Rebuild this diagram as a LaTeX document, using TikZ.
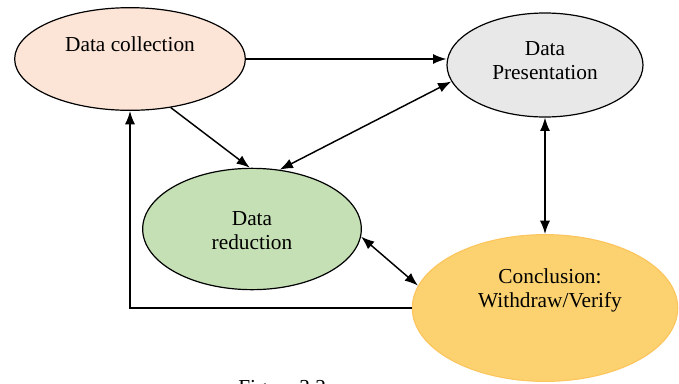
\documentclass[tikz,border=0pt]{standalone}
\usepackage{fontspec}
\setmainfont{Liberation Serif}
\usetikzlibrary{shapes.geometric,arrows.meta}
\definecolor{peach}{HTML}{FCE4D6}
\definecolor{lgray}{HTML}{E8E8E8}
\definecolor{lgreen}{HTML}{C5E0B4}
\definecolor{gold}{HTML}{FCD270}
\begin{document}
\begin{tikzpicture}[x=0.75pt,y=-0.75pt,
    oval/.style={ellipse,draw=black,line width=0.9pt,inner sep=0pt},
    txt/.style={align=center,font=\fontsize{16}{18}\selectfont},
    link/.style={line width=1.1pt,-{Latex[length=10pt,width=7.5pt]}},
    both/.style={line width=1.1pt,{Latex[length=10pt,width=7.5pt]}-{Latex[length=10pt,width=7.5pt]}}]
    \useasboundingbox(0,0)rectangle(679,383);
    \node[oval,fill=peach,minimum width=173pt,minimum height=77pt](coll)at(130,59){};%data collection
    \node[oval,fill=lgray,minimum width=147pt,minimum height=78pt](pres)at(545,65){};%presentation
    \node[oval,fill=lgreen,minimum width=164pt,minimum height=91pt](red)at(252,229){};%reduction
    \node[oval,fill=gold,draw=gold!85!orange,minimum width=199pt,minimum height=110pt](conc)at(545,308){};%conclusion
    \node[txt](colltxt)at(130,44){Data collection};
    \node[txt](prestxt)at(545,61){Data\\Presentation};
    \node[txt](redtxt)at(252,231){Data\\reduction};
    \node[txt](conctxt)at(550,290){Conclusion:\\Withdraw/Verify};
    \draw[link](coll.east)--(coll.east-|pres.west);
    \draw[link](coll.-50)--(red.92);
    \draw[both](red.65)--(pres.190);
    \draw[both](pres.south)--(conc.north);
    \draw[both](red.-4)--(conc.170);
    \draw[link](conc.west)-|(coll.south);
    \node[txt,inner sep=0pt,anchor=north west](cap)at(238,380){Figure 3.2};
\end{tikzpicture}
\end{document}
